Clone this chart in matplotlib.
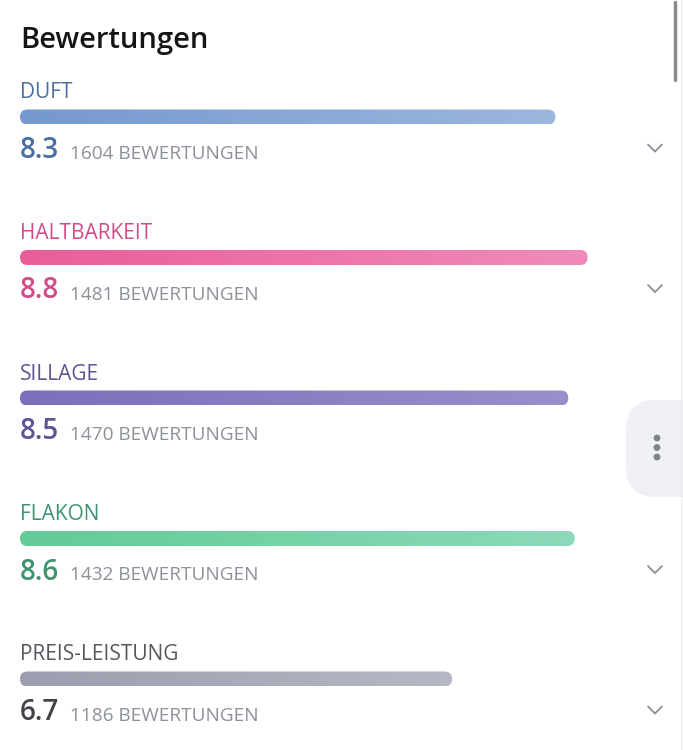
import numpy as np
import matplotlib.pyplot as plt
import matplotlib.transforms as mtransforms
from matplotlib.patches import FancyBboxPatch, Circle
from matplotlib.colors import LinearSegmentedColormap

# rating data
title = 'Bewertungen'
categories = ['DUFT', 'HALTBARKEIT', 'SILLAGE', 'FLAKON', 'PREIS-LEISTUNG']
ratings = [8.3, 8.8, 8.5, 8.6, 6.7]
votes = [1604, 1481, 1470, 1432, 1186]
count_word = 'BEWERTUNGEN'
show_chevron = [True, True, False, True, True]

# colours per row
bar_start = ['#7499d0', '#e95d9a', '#7a6fba', '#62cb97', '#9a9eae']
bar_end = ['#9cb7de', '#f08bbb', '#9890cb', '#8dd9b9', '#b5b8c4']
label_colors = ['#4f6e9a', '#d24c89', '#5d5494', '#3f9470', '#55585e']
value_colors = ['#4a6ea3', '#d24c89', '#5d5494', '#3f9470', '#404348']

W, H, DPI = 683, 750, 100
fig = plt.figure(figsize=(W / DPI, H / DPI), dpi=DPI)
fig.patch.set_facecolor('white')
plt.rcParams['font.family'] = ['Open Sans', 'DejaVu Sans']

# main axes: x in rating points, y in row index
px_per_point = 64.5
x0_px = 20
row0_px = 117
row_px = 140.5
ax = fig.add_axes([0, 0, 1, 1])
ax.axis('off')

bar_h = 15 / row_px
r = 7.5 / px_per_point
aspect = (7.5 / row_px) / r
grad = np.linspace(0, 1, 256).reshape(1, -1)


def shift(dy):
    # offset in pixels (positive = down on screen)
    return mtransforms.offset_copy(ax.transData, fig=fig, x=0, y=-dy, units='dots')


for i, (cat, val, n) in enumerate(zip(categories, ratings, votes)):
    patch = FancyBboxPatch((0, i - bar_h / 2), val, bar_h,
                           boxstyle=f'round,pad=0,rounding_size={r}',
                           mutation_aspect=aspect, facecolor='none',
                           edgecolor='none')
    ax.add_patch(patch)
    cmap = LinearSegmentedColormap.from_list('g%d' % i, [bar_start[i], bar_end[i]])
    im = ax.imshow(grad, extent=[0, val, i + bar_h / 2, i - bar_h / 2],
                   cmap=cmap, aspect='auto', interpolation='bicubic', zorder=2)
    im.set_clip_path(patch)

    ax.text(0, i, cat, transform=shift(-18.5), fontsize=15, color=label_colors[i],
            va='baseline', ha='left')
    ax.text(0, i, f'{val:.1f}', transform=shift(41), fontsize=20, color=value_colors[i],
            va='baseline', ha='left', fontweight='semibold')
    ax.text(50 / px_per_point, i, f'{n} {count_word}', transform=shift(42), fontsize=13.7,
            color='#8c9099', va='baseline', ha='left')

ax.set_xlim(-x0_px / px_per_point, (W - x0_px) / px_per_point)
ax.set_ylim((H - row0_px) / row_px, -row0_px / row_px)

# overlay in pixel coordinates for the page furniture
ax2 = fig.add_axes([0, 0, 1, 1])
ax2.set_xlim(0, W)
ax2.set_ylim(H, 0)
ax2.axis('off')
ax2.patch.set_alpha(0)

fig.text(20 / W, 1 - 48 / H, title, fontsize=21, fontweight='semibold', color='#151515',
         va='baseline', ha='left')

for i, show in enumerate(show_chevron):
    if show:
        cy = row0_px + row_px * i + 31
        ax2.plot([648, 655, 662], [cy - 3.5, cy + 3.5, cy - 3.5], color='#8a8f99',
                 lw=1.3, solid_capstyle='round', solid_joinstyle='miter')

# scrollbar and right edge
ax2.plot([681, 681], [0, H], color='#ececec', lw=0.8)
ax2.plot([675, 675], [2, 80], color='#8a8a8a', lw=2.5, solid_capstyle='round')

# floating menu button
btn = FancyBboxPatch((626, 400), 90, 97, boxstyle='round,pad=0,rounding_size=30',
                     facecolor='#eef0f4', edgecolor='none')
ax2.add_patch(btn)
for dy in [438, 447.5, 457]:
    ax2.add_patch(Circle((657, dy), 2.7, color='#7d828c'))

fig.savefig('out.png', dpi=DPI)
